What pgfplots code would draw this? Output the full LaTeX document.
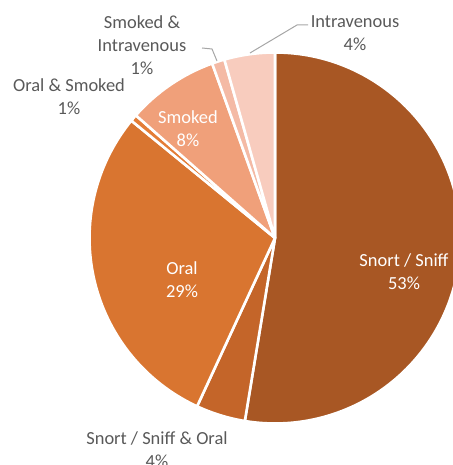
\documentclass[border=0pt]{standalone}
\usepackage{pgfplots}
\pgfplotsset{compat=1.18}
\usepackage{fontspec}
\setmainfont{Carlito}

\definecolor{cSnort}{RGB}{168,87,36}
\definecolor{cSnortOral}{RGB}{196,101,41}
\definecolor{cOral}{RGB}{217,117,48}
\definecolor{cOralSmoked}{RGB}{228,125,55}
\definecolor{cSmoked}{RGB}{240,160,122}
\definecolor{cSmokedIV}{RGB}{244,186,165}
\definecolor{cIV}{RGB}{248,204,190}
\definecolor{labelgray}{RGB}{89,89,89}
\definecolor{leader}{RGB}{166,166,166}

\tikzset{lbl/.style={font=\fontsize{18.5}{23}\selectfont, align=center, inner sep=0pt}}

% pie centre (axis units = bp) and radius
\def\cx{275}\def\cy{227}\def\rad{185.5bp}
% #1 = cumulative share before the slice (%), #2 = share (%), #3 = colour
\newcommand{\slice}[3]{%
  \fill[#3, draw=white, line width=2.6bp, line join=round]
    (axis cs:\cx,\cy) -- ++({90-3.6*(#1)}:\rad)
    arc[start angle={90-3.6*(#1)}, end angle={90-3.6*(#1+#2)}, radius=\rad] -- cycle;}

\begin{document}
\begin{tikzpicture}
\begin{axis}[
  width=453bp, height=465bp, scale only axis,
  xmin=0, xmax=453, ymin=0, ymax=465,
  hide axis, clip=true,
]
  % shares in percent, clockwise from 12 o'clock
  \slice{0}{52.6}{cSnort}        % Snort / Sniff
  \slice{52.6}{4.3}{cSnortOral}  % Snort / Sniff & Oral
  \slice{56.9}{29.0}{cOral}      % Oral
  \slice{85.9}{0.6}{cOralSmoked} % Oral & Smoked
  \slice{86.5}{8.0}{cSmoked}     % Smoked
  \slice{94.5}{1.1}{cSmokedIV}   % Smoked & Intravenous
  \slice{95.6}{4.4}{cIV}         % Intravenous

  % leader lines
  \draw[leader, line width=1bp] (axis cs:202,417) -- (axis cs:212,416) -- (axis cs:217,404);
  \draw[leader, line width=1bp] (axis cs:308,440) -- (axis cs:297,440) -- (axis cs:250,412);

  % data labels
  \node[lbl, white] at (axis cs:404,193.5) {Snort / Sniff\\53\%};
  \node[lbl, white] at (axis cs:182,185.5) {Oral\\29\%};
  \node[lbl, white] at (axis cs:188,336) {Smoked\\8\%};
  \node[lbl, labelgray] at (axis cs:142,420) {Smoked \&\\Intravenous\\1\%};
  \node[lbl, labelgray] at (axis cs:69,368.5) {Oral \& Smoked\\1\%};
  \node[lbl, labelgray] at (axis cs:355,431.5) {Intravenous\\4\%};
  \node[lbl, labelgray] at (axis cs:157,15) {Snort / Sniff \& Oral\\4\%};
\end{axis}
\pgfresetboundingbox
\useasboundingbox (current axis.south west) rectangle (current axis.north east);
\end{tikzpicture}
\end{document}
